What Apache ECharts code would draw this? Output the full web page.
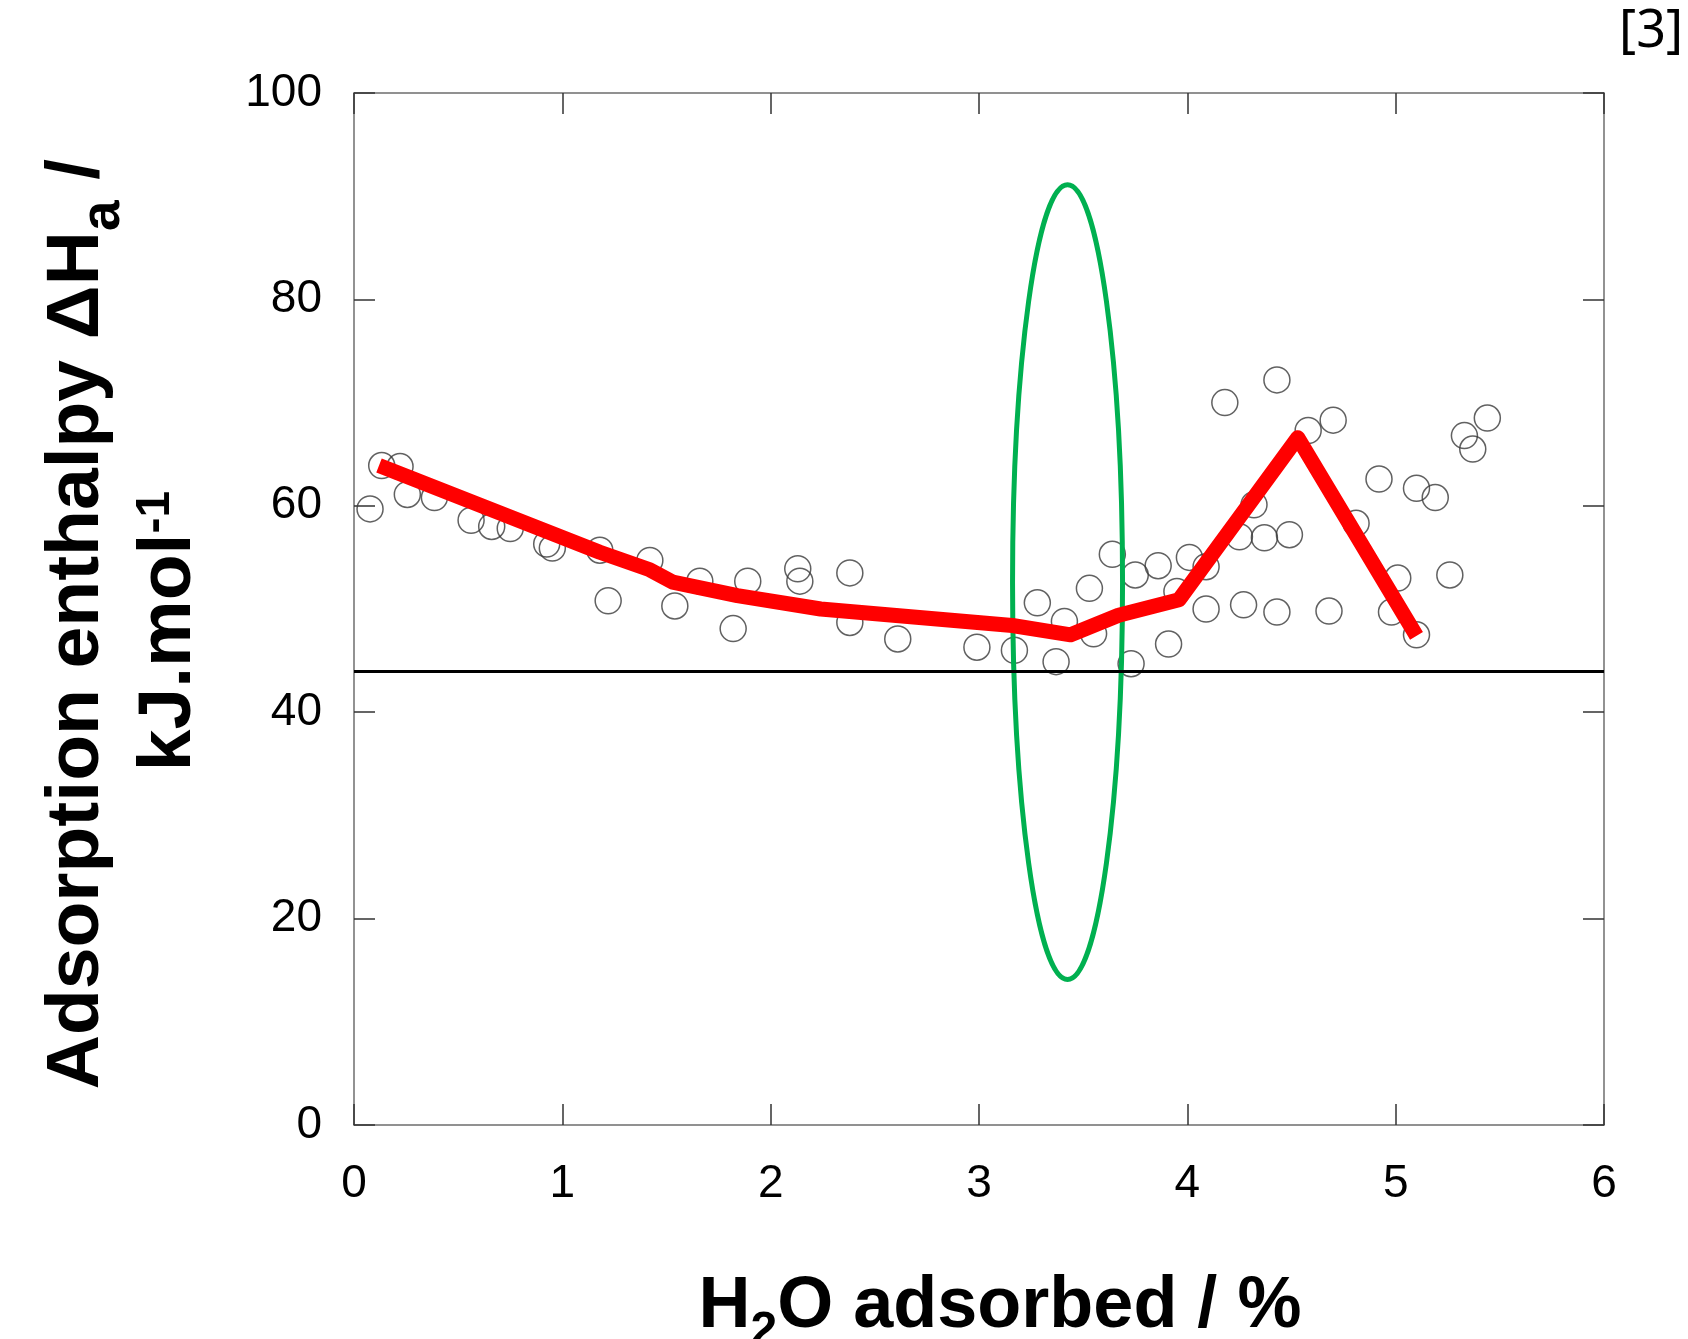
<!DOCTYPE html>
<html><head><meta charset="utf-8">
<script src="https://cdn.jsdelivr.net/npm/echarts@6/dist/echarts.min.js"></script>
<style>html,body{margin:0;padding:0;background:#fff}#c{width:1688px;height:1339px}</style>
</head><body><div id="c"></div>
<script>
// ---- data ----
const scatterX = [0.077,0.133,0.221,0.256,0.386,0.562,0.661,0.75,0.925,0.952,1.18,1.22,1.42,1.54,1.66,1.82,1.89,2.13,2.14,2.38,2.38,2.61,2.99,3.17,3.28,3.37,3.41,3.53,3.55,3.64,3.73,3.75,3.86,3.91,3.95,4.01,4.09,4.09,4.18,4.25,4.27,4.32,4.37,4.43,4.43,4.49,4.58,4.70,4.68,4.81,4.92,4.98,5.01,5.10,5.10,5.19,5.26,5.33,5.37,5.44];
const scatterY = [59.7,63.9,63.8,61.1,60.8,58.6,58.0,57.8,56.3,55.9,55.7,50.8,54.7,50.3,52.7,48.1,52.7,53.9,52.7,53.5,48.7,47.1,46.3,46.0,50.6,44.9,48.8,52.0,47.6,55.3,44.7,53.3,54.2,46.6,51.7,55.0,54.1,50.0,70.0,57.0,50.4,60.1,56.9,72.2,49.7,57.2,67.3,68.3,49.8,58.3,62.6,49.7,53.0,61.7,47.5,60.8,53.3,66.8,65.5,68.5];
const trendX = [0.12,1.18,1.42,1.53,1.84,2.24,3.16,3.44,3.67,3.96,4.53,5.10];
const trendY = [63.9,55.5,53.8,52.6,51.3,50.0,48.4,47.5,49.4,50.9,66.6,47.4];
const refLineY = 44;
const ellipseCenter = [3.425, 52.6];
const ellipseRadius = [0.264, 38.5];
const xTicks = [0,1,2,3,4,5,6];
const yTicks = [0,20,40,60,80,100];

const FONT = '"Liberation Sans", Arial, sans-serif';
const chart = echarts.init(document.getElementById('c'));

const axisLine = {show:true, onZero:false, lineStyle:{color:'#6e6e6e', width:1.5}};
const axisTick = {show:true, inside:true, length:21, lineStyle:{color:'#333', width:1.5}};

function xAxisDef(pos, labels){
  return {type:'value', position:pos, min:xTicks[0], max:xTicks[xTicks.length-1], interval:xTicks[1]-xTicks[0],
    axisLine, axisTick, splitLine:{show:false},
    axisLabel:{show:labels, margin:36, fontSize:46, color:'#000', fontFamily:FONT}};
}
function yAxisDef(pos, labels){
  return {type:'value', position:pos, min:yTicks[0], max:yTicks[yTicks.length-1], interval:yTicks[1]-yTicks[0],
    axisLine, axisTick, splitLine:{show:false},
    axisLabel:{show:labels, margin:32, fontSize:46, color:'#000', fontFamily:FONT}};
}

const option = {
  animation:false,
  backgroundColor:'#fff',
  grid:{left:354, top:93, width:1250, height:1032, containLabel:false},
  xAxis:[xAxisDef('bottom', true), xAxisDef('top', false)],
  yAxis:[yAxisDef('left', true), yAxisDef('right', false)],
  series:[
    {type:'scatter', z:2, data:scatterX.map((x,i)=>[x,scatterY[i]]),
     symbol:'circle', symbolSize:26,
     itemStyle:{color:'rgba(0,0,0,0)', borderColor:'#3a3a3a', borderWidth:1.5},
     markLine:{silent:true, symbol:['none','none'], label:{show:false},
       lineStyle:{color:'#000', width:3, type:'solid'}, data:[{yAxis:refLineY}]}},
    {type:'line', z:6, data:trendX.map((x,i)=>[x,trendY[i]]), showSymbol:false, symbol:'none',
     lineStyle:{color:'#ff0000', width:15, cap:'butt', join:'round'}}
  ],
  graphic:[
    {type:'text', x:71, y:624, rotation:Math.PI/2, z:10,
     style:{text:'{b|Adsorption enthalpy ΔH}{s|a}{b| /}', align:'center', verticalAlign:'middle',
       rich:{b:{fontSize:75, fontWeight:'bold', fontFamily:FONT, lineHeight:75, verticalAlign:'bottom', padding:[0,0,16,0], fill:'#000'},
             s:{fontSize:55, fontWeight:'bold', fontFamily:FONT, lineHeight:120, verticalAlign:'bottom', fill:'#000'}}}},
    {type:'text', x:187, y:631, rotation:Math.PI/2, z:10,
     style:{text:'{b|kJ.mol}{s|-1}', align:'center', verticalAlign:'middle',
       rich:{b:{fontSize:75, fontWeight:'bold', fontFamily:FONT, lineHeight:75, verticalAlign:'top', fill:'#000'},
             s:{fontSize:48, fontWeight:'bold', fontFamily:FONT, lineHeight:110, verticalAlign:'top', fill:'#000'}}}},
    {type:'text', x:1000, y:1246, z:10,
     style:{text:'{b|H}{s|2}{b|O adsorbed / %}', align:'center', verticalAlign:'top',
       rich:{b:{fontSize:72, fontWeight:'bold', fontFamily:FONT, lineHeight:72, verticalAlign:'bottom', padding:[0,0,13,0], fill:'#000'},
             s:{fontSize:48, fontWeight:'bold', fontFamily:FONT, lineHeight:110, verticalAlign:'bottom', fill:'#000'}}}},
    {type:'text', x:1683, y:6, z:10,
     style:{text:'[3]', align:'right', verticalAlign:'top', fontSize:52, fontFamily:'"Noto Sans", "Open Sans", sans-serif', fill:'#000'}}
  ]
};
chart.setOption(option);

const c = chart.convertToPixel({xAxisIndex:0, yAxisIndex:0}, ellipseCenter);
const e = chart.convertToPixel({xAxisIndex:0, yAxisIndex:0}, [ellipseCenter[0]+ellipseRadius[0], ellipseCenter[1]+ellipseRadius[1]]);
chart.setOption({graphic:[{id:'ell', type:'ellipse', z:4,
  shape:{cx:c[0], cy:c[1], rx:e[0]-c[0], ry:c[1]-e[1]},
  style:{fill:'none', stroke:'#00b050', lineWidth:5}}]});
</script></body></html>
